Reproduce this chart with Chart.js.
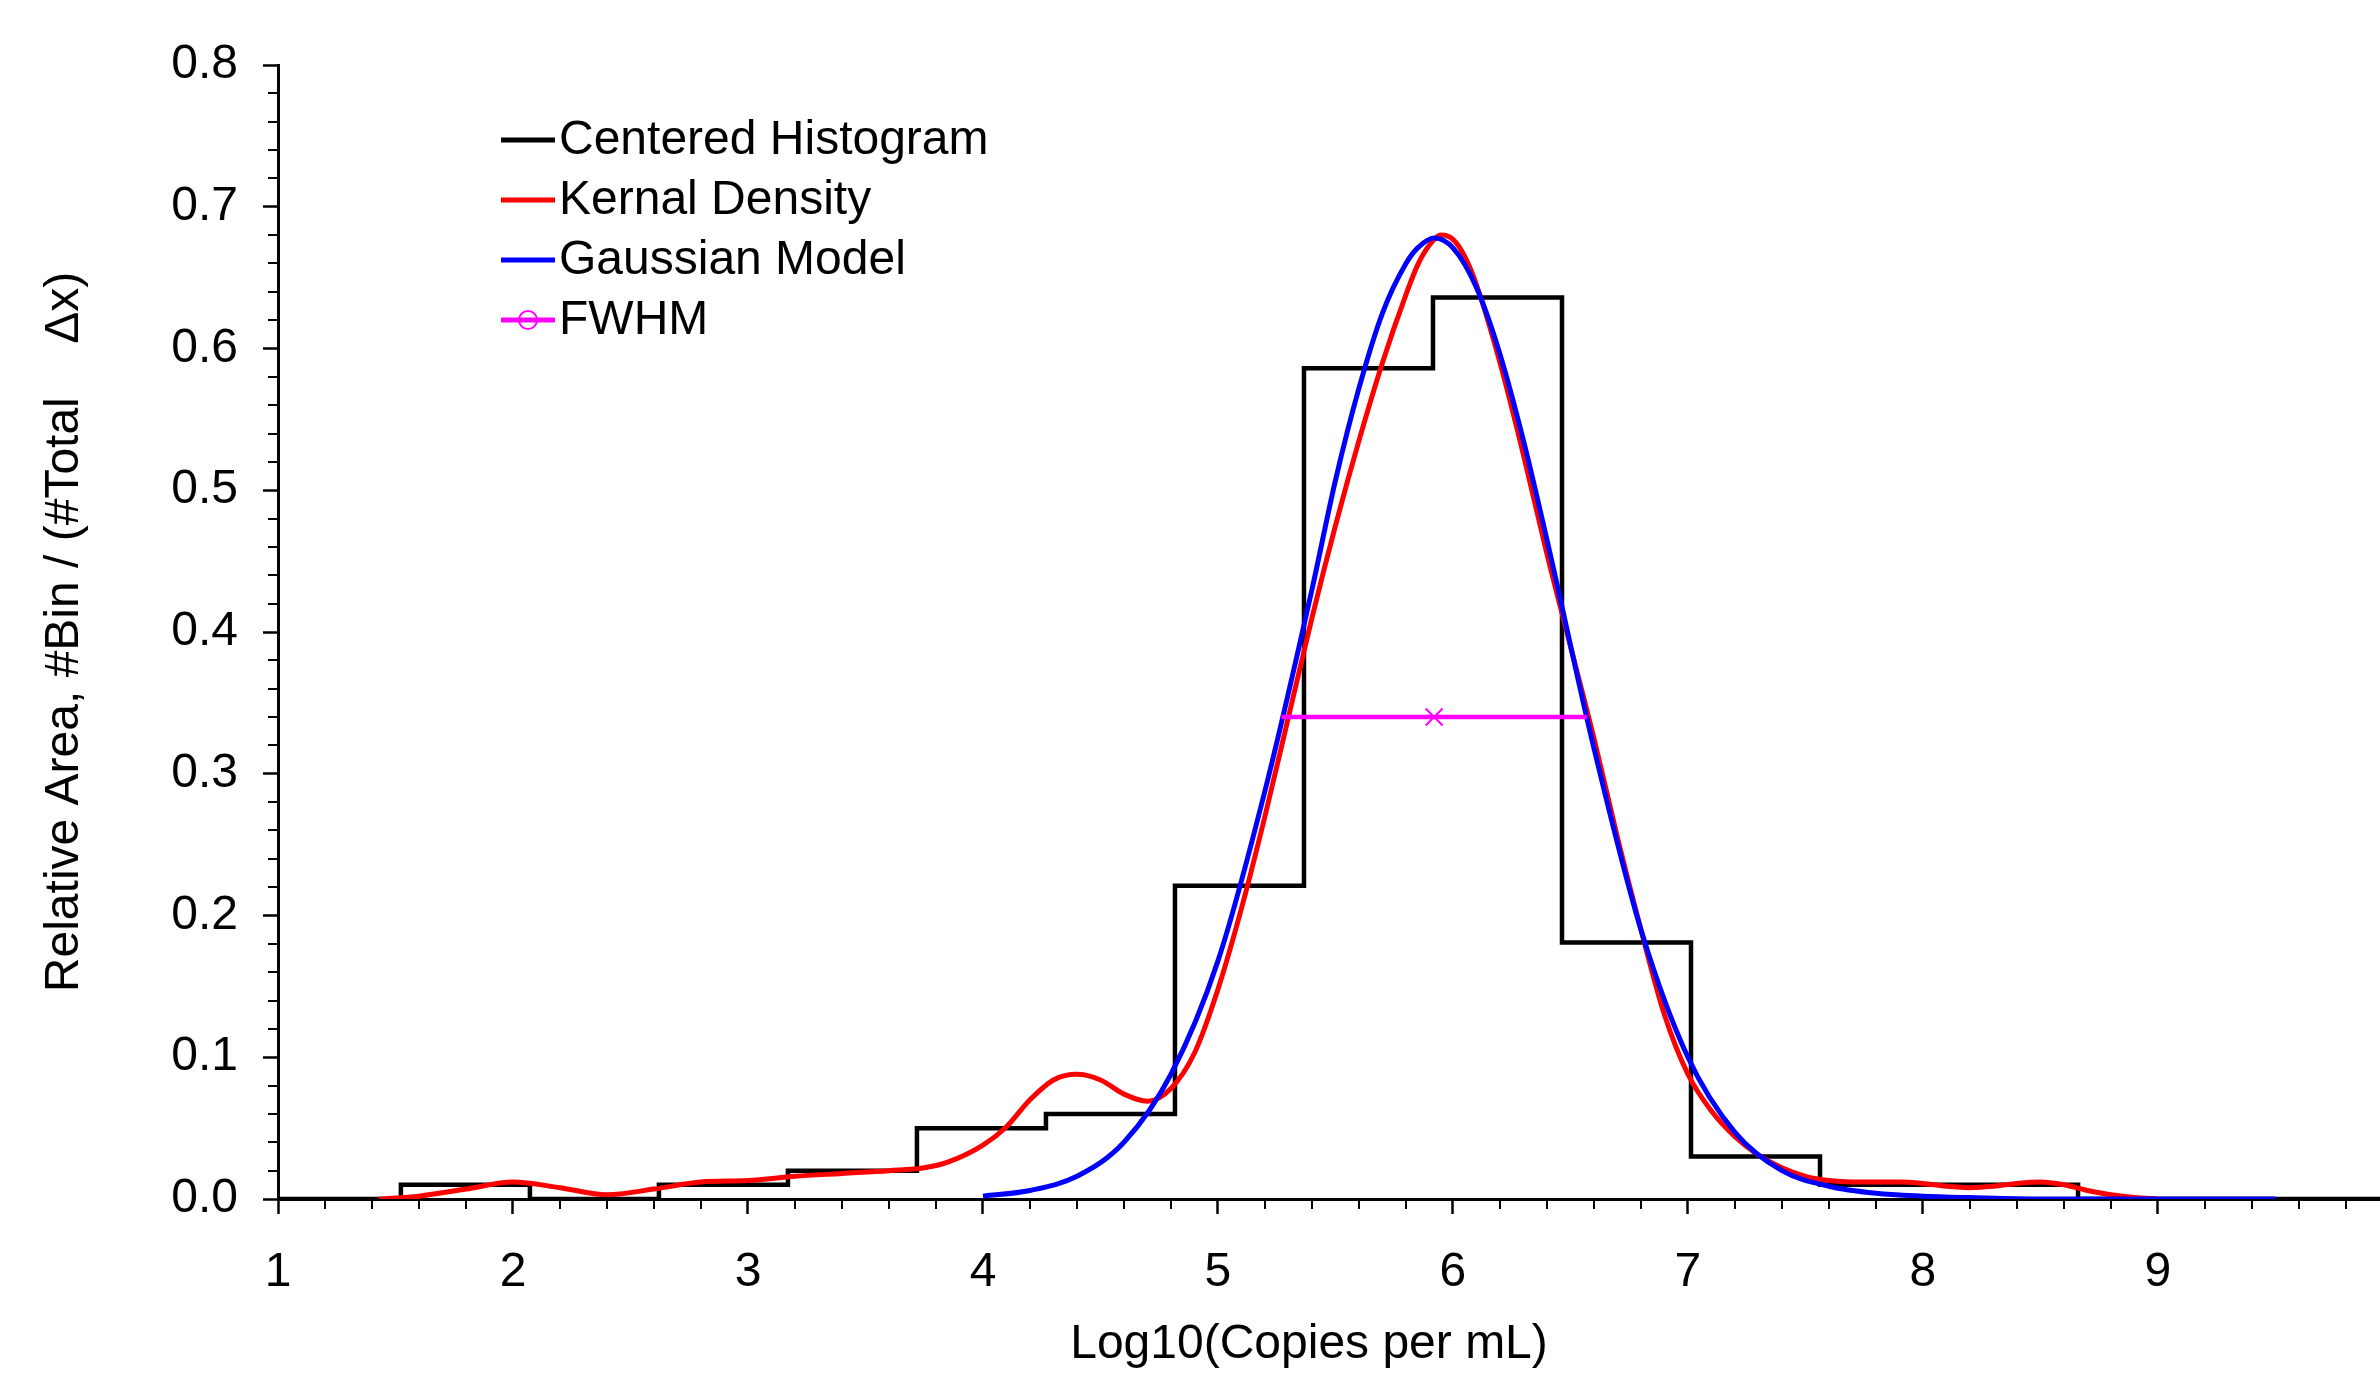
<!DOCTYPE html>
<html>
<head>
<meta charset="utf-8">
<script src="https://cdn.jsdelivr.net/npm/chart.js@4"></script>
<style>
  html, body { margin: 0; padding: 0; background: #fff; }
  #wrap { width: 2380px; height: 1377px; }
</style>
</head>
<body>
<div id="wrap"><canvas id="chart" width="2380" height="1377"></canvas></div>
<script>
// centered histogram: bin edges (14) and bin heights (13)
const binEdges = [1.523, 2.072, 2.621, 3.170, 3.719, 4.268, 4.817, 5.366, 5.915, 6.464, 7.013, 7.562, 8.111, 8.660];
const binHeights = [0.010, 0.000, 0.010, 0.020, 0.050, 0.060, 0.221, 0.586, 0.636, 0.181, 0.030, 0.010, 0.010];

// kernel density curve
const kdeX = [1.43, 1.6, 1.8, 2.0, 2.2, 2.4, 2.6, 2.8, 3.0, 3.2, 3.4, 3.6, 3.75, 3.85, 4.0, 4.1, 4.2, 4.3, 4.4, 4.5,
  4.6, 4.7, 4.8, 4.9, 5.0, 5.1, 5.2, 5.3, 5.4, 5.5, 5.6, 5.7, 5.8, 5.85, 5.9, 5.95, 6.0, 6.05, 6.1, 6.2, 6.3, 6.4,
  6.5, 6.6, 6.7, 6.8, 6.9, 7.0, 7.1, 7.2, 7.3, 7.4, 7.5, 7.6, 7.7, 7.8, 7.9, 8.0, 8.1, 8.2, 8.3, 8.4,
  8.5, 8.6, 8.7, 8.8, 8.9, 9.0];
const kdeY = [0.000, 0.002, 0.007, 0.012, 0.008, 0.003, 0.007, 0.012, 0.013, 0.016, 0.018, 0.020, 0.022, 0.026, 0.038, 0.051, 0.070, 0.084, 0.088, 0.084,
  0.074, 0.069, 0.078, 0.103, 0.148, 0.205, 0.270, 0.340, 0.410, 0.475, 0.535, 0.590, 0.638, 0.659, 0.673, 0.680, 0.677, 0.665, 0.645, 0.590, 0.525, 0.455,
  0.390, 0.325, 0.255, 0.190, 0.130, 0.088, 0.062, 0.044, 0.031, 0.022, 0.016, 0.013, 0.012, 0.012, 0.012, 0.011, 0.009, 0.008, 0.009, 0.011,
  0.012, 0.010, 0.006, 0.003, 0.001, 0.000];

// gaussian model curve
const gaussX = [4.0, 4.2, 4.4, 4.6, 4.8, 5.0, 5.2, 5.4, 5.5, 5.6, 5.7, 5.8, 5.85, 5.92, 6.0, 6.1, 6.2, 6.3, 6.4, 6.6, 6.8, 7.0, 7.2, 7.4, 7.6, 7.8, 8.0, 8.2, 8.5, 9.0, 9.5];
const gaussY = [0.002, 0.006, 0.016, 0.040, 0.088, 0.168, 0.288, 0.430, 0.507, 0.572, 0.625, 0.660, 0.671, 0.678, 0.671, 0.643, 0.596, 0.535, 0.465, 0.318, 0.190, 0.100, 0.047, 0.020, 0.009, 0.004, 0.002, 0.001, 0.000, 0.000, 0.000];

// full width at half maximum
const fwhmX = [5.27, 5.92, 6.57];
const fwhmY = [0.34, 0.34, 0.34];

const xMin = 1, xMax = 9.945;
const yMin = 0, yMax = 0.8;

const FONT = 'Liberation Sans, Arial, sans-serif';
Chart.defaults.font.family = FONT;
Chart.defaults.font.size = 48;
Chart.defaults.color = '#000';

const toPoints = (xs, ys) => xs.map((x, i) => ({x: x, y: ys[i]}));

// histogram as stepped line, flat at zero outside the bins
const histPoints = [{x: xMin, y: 0}]
  .concat(binHeights.map((h, i) => ({x: binEdges[i], y: h})))
  .concat([{x: binEdges[binEdges.length - 1], y: 0}, {x: xMax, y: 0}]);

const minorTicks = {
  id: 'minorTicks',
  afterDraw(chart) {
    const {ctx, scales: {x, y}} = chart;
    ctx.save();
    ctx.strokeStyle = '#000';
    ctx.lineWidth = 2;
    ctx.beginPath();
    for (let i = 1; xMin + i * 0.2 < xMax; i++) {
      if (i % 5 === 0) continue;
      const px = Math.round(x.getPixelForValue(xMin + i * 0.2));
      ctx.moveTo(px, y.bottom);
      ctx.lineTo(px, y.bottom + 10);
    }
    for (let i = 1; i < 40; i++) {
      if (i % 5 === 0) continue;
      const py = Math.round(y.getPixelForValue(i * 0.02));
      ctx.moveTo(x.left - 10, py);
      ctx.lineTo(x.left, py);
    }
    ctx.stroke();
    ctx.restore();
  }
};

const legendBox = {
  id: 'legendBox',
  afterDraw(chart) {
    const {ctx, chartArea} = chart;
    const x0 = chartArea.left + 223;
    const lineLen = 54;
    ctx.save();
    ctx.font = '48px ' + FONT;
    ctx.textBaseline = 'middle';
    chart.data.datasets.forEach((ds, i) => {
      const yy = chartArea.top + 75 + i * 60;
      ctx.strokeStyle = ds.borderColor;
      ctx.lineWidth = 5;
      ctx.beginPath();
      ctx.moveTo(x0, yy);
      ctx.lineTo(x0 + lineLen, yy);
      ctx.stroke();
      if (ds.legendCircle) {
        ctx.lineWidth = 2;
        ctx.beginPath();
        ctx.arc(x0 + lineLen / 2, yy, 9, 0, Math.PI * 2);
        ctx.stroke();
      }
      ctx.fillStyle = '#000';
      ctx.fillText(ds.label, x0 + lineLen + 4, yy + 1);
    });
    ctx.restore();
  }
};

const ctx = document.getElementById('chart').getContext('2d');
new Chart(ctx, {
  type: 'scatter',
  data: {
    datasets: [
      {
        label: 'Centered Histogram',
        data: histPoints,
        showLine: true,
        stepped: true,
        borderColor: '#000000',
        borderWidth: 4.5,
        pointRadius: 0,
        order: 4
      },
      {
        label: 'Kernal Density',
        data: toPoints(kdeX, kdeY),
        showLine: true,
        borderColor: '#ff0000',
        borderWidth: 5,
        tension: 0.4,
        cubicInterpolationMode: 'monotone',
        pointRadius: 0,
        order: 3
      },
      {
        label: 'Gaussian Model',
        data: toPoints(gaussX, gaussY),
        showLine: true,
        borderColor: '#0000ff',
        borderWidth: 5,
        tension: 0.4,
        cubicInterpolationMode: 'monotone',
        pointRadius: 0,
        order: 2
      },
      {
        label: 'FWHM',
        data: toPoints(fwhmX, fwhmY),
        showLine: true,
        borderColor: '#ff00ff',
        borderWidth: 4.5,
        pointRadius: [0, 12, 0],
        pointStyle: 'crossRot',
        pointBorderColor: '#ff00ff',
        pointBorderWidth: 2,
        legendCircle: true,
        order: 1
      }
    ]
  },
  options: {
    responsive: false,
    animation: false,
    layout: {padding: {top: 65, right: 0, bottom: 0, left: 0}},
    plugins: {
      legend: {display: false},
      tooltip: {enabled: false}
    },
    scales: {
      x: {
        type: 'linear',
        min: xMin,
        max: xMax,
        afterFit: (scale) => { scale.height = 178; },
        border: {display: true, color: '#000', width: 3},
        grid: {drawOnChartArea: false, drawTicks: true, tickLength: 15, tickWidth: 2.5, tickColor: '#000'},
        ticks: {
          stepSize: 1,
          includeBounds: false,
          padding: 30,
          maxRotation: 0,
          autoSkip: false,
          color: '#000',
          font: {size: 48},
          callback: (v) => String(v)
        },
        title: {
          display: true,
          text: 'Log10(Copies per mL)   ',
          color: '#000',
          font: {size: 48},
          padding: {top: 0, bottom: 3}
        }
      },
      y: {
        type: 'linear',
        min: yMin,
        max: yMax,
        afterFit: (scale) => { scale.width = 278; },
        border: {display: true, color: '#000', width: 3},
        grid: {drawOnChartArea: false, drawTicks: true, tickLength: 15, tickWidth: 2.5, tickColor: '#000'},
        ticks: {
          stepSize: 0.1,
          padding: 25,
          color: '#000',
          font: {size: 48},
          callback: (v) => Number(v).toFixed(1)
        },
        title: {
          display: true,
          text: 'Relative Area, #Bin / (#Total    Δx)',
          color: '#000',
          font: {size: 48},
          padding: {top: 36, bottom: 0}
        }
      }
    }
  },
  plugins: [minorTicks, legendBox]
});
</script>
</body>
</html>
